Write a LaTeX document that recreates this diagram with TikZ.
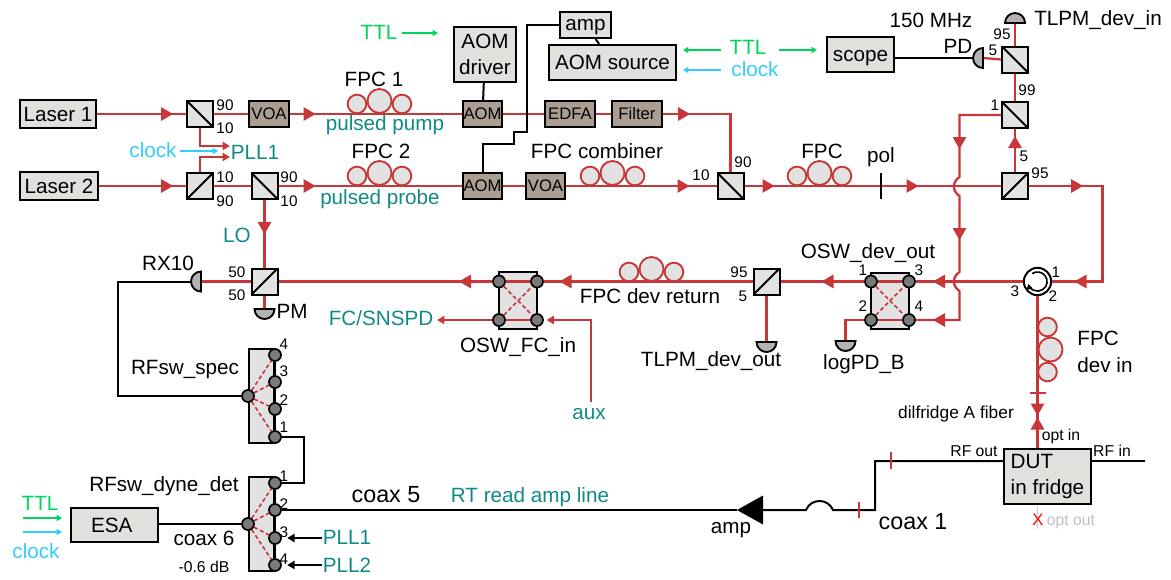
\documentclass[tikz,border=0pt]{standalone}
\usepackage{fontspec}
\setmainfont{Liberation Sans}
\usepackage{xcolor}
\usetikzlibrary{arrows.meta,calc}
\definecolor{fibred}{RGB}{200,55,55}
\definecolor{boxgray}{RGB}{224,224,221}
\definecolor{partgray}{RGB}{226,226,226}
\definecolor{aombrown}{RGB}{172,157,147}
\definecolor{labelteal}{RGB}{15,138,132}
\definecolor{ttlgreen}{RGB}{0,212,90}
\definecolor{clockblue}{RGB}{51,204,255}
\definecolor{portgray}{RGB}{122,122,122}
\definecolor{pdgray}{RGB}{179,179,179}
\newcommand{\fibtip}[2]{\fill[fibred,shift={(#1)},rotate=#2] (4.5pt,0) -- (-4.5pt,5.2pt) -- (-4.5pt,-5.2pt) -- cycle;}
\newcommand{\pdhead}[2]{\draw[line width=1.4pt,fill=pdgray,shift={(#1)},rotate=#2] (-7.5pt,0) arc (180:0:7.5pt) -- cycle;}

\begin{document}
\begin{tikzpicture}[x=0.75pt,y=-0.75pt,
  every node/.style={font=\fontsize{15.5}{20}\selectfont,inner sep=0pt},
  num/.style={font=\fontsize{11.5}{14}\selectfont},
  small/.style={font=\fontsize{11.8}{14}\selectfont},
  coaxlbl/.style={font=\fontsize{17.5}{20}\selectfont},
  teal/.style={text=labelteal},
  greybox/.style={draw,line width=1.5pt,fill=boxgray,align=center},
  brownbox/.style={draw,line width=1.5pt,fill=aombrown,minimum height=19.5pt,font=\fontsize{12.5}{15}\selectfont},
  bsdown/.style={draw,line width=1.5pt,fill=partgray,minimum size=19.5pt,
    path picture={\draw[line width=1.5pt] (path picture bounding box.north west) -- (path picture bounding box.south east);}},
  bsup/.style={draw,line width=1.5pt,fill=partgray,minimum size=19.5pt,
    path picture={\draw[line width=1.5pt] (path picture bounding box.south west) -- (path picture bounding box.north east);}},
  swbox/.style={draw,line width=1.5pt,fill=partgray},
  port/.style={circle,draw,line width=1.3pt,fill=portgray,minimum size=9pt},
  coil/.style={circle,draw=fibred,line width=1.4pt,fill=partgray},
  fib/.style={draw=fibred,line width=1.7pt},
  wire/.style={draw=black,line width=1.5pt},
  swdash/.style={draw=fibred,line width=1.2pt,dash pattern=on 3pt off 2pt},
  smalltip/.style={-{Triangle[length=5.5pt,width=6pt]}},
  thintip/.style={line width=1pt,-{Triangle[length=4pt,width=4.5pt]}}]
  \useasboundingbox (0,0) rectangle (1171,579);

  % sources and boxes
  \node[greybox,minimum width=57pt,minimum height=21.5pt] (laserA) at (58,114) {Laser 1};
  \node[greybox,minimum width=58pt,minimum height=21.5pt] (laserB) at (59,186) {Laser 2};
  \node[brownbox,minimum width=30pt] (voaA) at (269,114) {VOA};
  \node[brownbox,minimum width=29.5pt] (aomA) at (482.5,114) {AOM};
  \node[brownbox,minimum width=38pt] (edfa) at (570,114) {EDFA};
  \node[brownbox,minimum width=38pt] (filter) at (637,114) {Filter};
  \node[brownbox,minimum width=29.5pt] (aomB) at (482.5,186) {AOM};
  \node[brownbox,minimum width=29.5pt] (voaB) at (545.5,186) {VOA};
  \node[greybox,minimum width=46.5pt,minimum height=41.5pt] (driver) at (485,54.5) {AOM\\driver};
  \node[greybox,minimum width=38.5pt,minimum height=19.5pt,text depth=0pt] (amp) at (585.5,25) {amp};
  \node[greybox,minimum width=95.5pt,minimum height=26.5pt] (source) at (612.5,62.5) {AOM source};
  \node[greybox,minimum width=50.5pt,minimum height=26.5pt,text height=11pt,text depth=0pt] (scope) at (860.5,54.5) {scope};
  \node[greybox,minimum width=65.5pt,minimum height=26pt] (esa) at (114.5,525) {ESA\hspace{4pt}};
  \node[greybox,minimum width=65.5pt,minimum height=41.5pt,align=left] (dut) at (1047.5,476.5) {DUT\\in fridge};

  % splitters
  \node[bsdown] (bsA) at (200,114) {};
  \node[bsup] (bsB) at (200,186) {};
  \node[bsdown] (bsC) at (264.5,186) {};
  \node[bsup] (bsF) at (264.5,281.5) {};
  \node[bsdown] (bsD) at (730.5,186) {};
  \node[bsup] (bsE) at (1015,186) {};
  \node[bsdown] (bsH) at (1015,115) {};
  \node[bsdown] (bsJ) at (1015,59.5) {};
  \node[bsup] (bsG) at (766.5,281.5) {};

  % polarization controllers
  \foreach \name/\cx/\cy in {fpcA/0/0,fpcB/0/72,fpcC/233/72,fpcD/440/72,fpcE/272/168}{
    \node[coil,minimum size=14pt] (\name a) at (357+\cx,104+\cy) {};
    \node[coil,minimum size=18pt] (\name b) at (379.5+\cx,101+\cy) {};
    \node[coil,minimum size=14pt] (\name c) at (402+\cx,104+\cy) {};
  }
  \node[coil,minimum size=14pt] (fpcFa) at (1047.5,327) {};
  \node[coil,minimum size=18pt] (fpcFb) at (1050.5,349.5) {};
  \node[coil,minimum size=14pt] (fpcFc) at (1047.5,372) {};

  % optical switches
  \node[swbox,minimum width=28.5pt,minimum height=42.5pt] (oswFc) at (518,300.5) {};
  \foreach \n/\px/\py in {1/499/281.5,2/537/281.5,3/499/320,4/537/320}
    \node[port] (fc\n) at (\px,\py) {};
  \node[swbox,minimum width=28.5pt,minimum height=42.5pt] (oswDev) at (890,301) {};
  \foreach \n/\px/\py in {1/871/281.5,3/909/281.5,2/871/320,4/909/320}
    \node[port] (dev\n) at (\px,\py) {};
  \draw[fib] (fc1) -- (fc2); \draw[fib] (fc3) -- (fc4);
  \draw[swdash] (fc1) -- (fc4); \draw[swdash] (fc3) -- (fc2);
  \draw[fib] (dev1) -- (dev3); \draw[fib] (dev2) -- (dev4);
  \draw[swdash] (dev1) -- (dev4); \draw[swdash] (dev2) -- (dev3);

  % rf switches
  \node[swbox,minimum width=19pt,minimum height=71pt] (rfSpec) at (261.5,396) {};
  \node[swbox,minimum width=19pt,minimum height=71pt] (rfDyne) at (261.5,524) {};
  \foreach \n/\py in {4/355,3/382,2/409,1/437}
    \node[port] (spec\n) at (275,\py) {};
  \foreach \n/\py in {1/483,2/510,3/538,4/565}
    \node[port] (dyne\n) at (275,\py) {};
  \node[port] (specIn) at (248,396) {};
  \node[port] (dyneIn) at (248,524) {};
  \foreach \n in {1,2,3,4}{
    \draw[swdash] (specIn) -- (spec\n);
    \draw[swdash] (dyneIn) -- (dyne\n);
  }

  % circulator
  \node[circle,draw,line width=1.5pt,fill=white,minimum size=20.5pt] (circ) at (1037.5,281.5) {};
  \draw[line width=1.2pt,-{Triangle[length=4pt,width=4.5pt]},shift={(circ.center)}] (125:7.2pt) arc (125:-165:7.2pt);

  % detectors
  \coordinate (pdRx) at (201,281.5);
  \coordinate (pdRxBack) at (191,281.5);
  \coordinate (pdPm) at (264.5,309);
  \coordinate (pdOut) at (766.5,342);
  \coordinate (pdLog) at (845.5,341);
  \coordinate (pdIn) at (1015,23);
  \coordinate (pdFast) at (983,58);
  \coordinate (pdFastBack) at (972.5,58);

  % fibers
  \draw[fib] (laserA) -- (bsA);
  \draw[fib] (bsA) -- (voaA);
  \draw[fib] (voaA) -- (aomA);
  \draw[fib] (aomA) -- (edfa);
  \draw[fib] (edfa) -- (filter);
  \draw[fib] (filter.east) -| (bsD.north);
  \draw[fib] (laserB) -- (bsB);
  \draw[fib] (bsB) -- (bsC);
  \draw[fib] (bsC) -- (aomB);
  \draw[fib] (aomB) -- (voaB);
  \draw[fib] (voaB) -- (bsD);
  \draw[fib] (bsD) -- (bsE);
  \draw[fib] (bsE.east) -- (1102.5,186) -- (1102.5,281.5) -- (circ.east);
  \draw[fib] (circ.west) -- (dev3.east);
  \draw[fib] (dev1.west) -- (bsG.east);
  \draw[fib] (bsG.west) -- (fc2.east);
  \draw[fib] (fc1.west) -- (bsF.east);
  \draw[fib] (bsF.west) -- (pdRx);
  \draw[fib] (bsC.south) -- (bsF.north);
  \draw[fib] (bsF.south) -- (pdPm);
  \draw[fib] (bsG.south) -- (pdOut);
  \draw[fib] (dev2.west) -| (pdLog);
  \draw[fib] (bsE.north) -- (bsH.south);
  \draw[fib] (bsH.north) -- (bsJ.south);
  \draw[fib] (bsJ.north) -- (pdIn);
  \draw[fib] (bsJ.west) -- (pdFast);
  \draw[fib] (bsH.west) -- (959.5,115) -- (959.5,177) .. controls (952,182) and (952,191) .. (959.5,196) -- (959.5,272) .. controls (952,277) and (952,286) .. (959.5,291) -- (959.5,320) -- (dev4.east);
  \draw[fib] (circ.south) -- (circ.south |- dut.north);
  \draw[fibred!30,line width=1.4pt] (circ.south |- dut.south) -- ++(0,24);
  % pll taps
  \coordinate (pllTop) at (230,146);
  \coordinate (pllBot) at (230,157);
  \draw[fib,smalltip] (bsA.south) |- (pllTop);
  \draw[fib,smalltip] (bsB.north) |- (pllBot);
  % osw_fc side ports
  \coordinate (fcOut) at (437,320);
  \coordinate (auxEnd) at (591,402);
  \draw[fib,smalltip] (fc3.west) -- (fcOut);
  \draw[fib,smalltip,shorten >=2pt] (auxEnd) |- (fc4.east);

  % direction marks
  \fibtip{167,114}{0}
  \fibtip{309.5,114}{0}
  \fibtip{684,114}{0}
  \fibtip{167,186}{0}
  \fibtip{309.5,186}{0}
  \fibtip{683.5,186}{0}
  \fibtip{768.5,186}{0}
  \fibtip{912.5,186}{0}
  \fibtip{1077,186}{0}
  \fibtip{1080.5,281.5}{180}
  \fibtip{939,281.5}{180}
  \fibtip{939,320}{180}
  \fibtip{827.5,281.5}{180}
  \fibtip{565.5,281.5}{180}
  \fibtip{465,281.5}{180}
  \fibtip{264.5,228}{-90}
  \fibtip{959.5,143}{-90}
  \fibtip{959.5,234}{-90}
  \fibtip{1015,142}{90}
  \fibtip{1037.5,409.5}{-90}
  \fibtip{1037.5,423.5}{90}

  % photodiodes
  \pdhead{pdRx}{90}
  \pdhead{pdPm}{180}
  \pdhead{pdOut}{180}
  \pdhead{pdLog}{180}
  \pdhead{pdIn}{0}
  \pdhead{pdFast}{90}

  % electrical
  \draw[wire] (driver) -- (aomA);
  \draw[wire] (amp) -- (source);
  \draw[wire] (amp.west) -- (527,25) -- (527,132) -- (514,132) -- (514,144) -- (482.5,144) -- (aomB.north);
  \draw[wire] (scope.east |- pdFast) -- (pdFastBack);
  \draw[wire] (pdRxBack) -- (118,281.5) |- (specIn.west);
  \draw[wire] (spec1.east) -- (304,437) |- (dyne1.east);
  \draw[wire] (spec1) -- (spec2); \draw[wire] (spec2) -- (spec3); \draw[wire] (spec3) -- (spec4);
  \draw[wire] (dyne1) -- (dyne2); \draw[wire] (dyne2) -- (dyne3); \draw[wire] (dyne3) -- (dyne4);
  \draw[wire] (esa.east |- dyneIn) -- (dyneIn.west);
  \coordinate (ampBase) at (763,510);
  \coordinate (ampTip) at (737,510);
  \fill (ampBase) ++(0,-14.5) -- (ampTip) -- ++(26,14.5) -- cycle;
  \draw[wire] (dyne2.east) -- (ampTip);
  \draw[wire] (ampBase) -- (806,510) .. controls (811,498) and (828,498) .. (833,510) -- (875,510) -- (875,461) -- (dut.west |- 0,461);
  \coordinate (rfEnd) at (1145,461);
  \draw[wire] (dut.east |- rfEnd) -- (rfEnd);
  % cable ticks
  \draw[fibred,line width=1.2pt] (859,502) -- (859,518);
  \draw[fibred,line width=1.2pt] (891,452) -- (891,469);
  \draw[fibred,line width=1.2pt] (1030,393) -- (1046,393);
  \draw[line width=1.5pt] (881,173) -- (881,199);

  % labels
  \node (lblFpcA) at (374,79) {FPC 1};
  \node (lblFpcB) at (381,151) {FPC 2};
  \node (lblFpcCmb) at (597,151) {FPC combiner};
  \node (lblFpc) at (822,151) {FPC};
  \node (lblPol) at (881,157) {pol};
  \node (lblFpcRet) at (650,296) {FPC dev return};
  \node[align=left] (lblFpcIn) at (1105,352) {FPC\\dev in};
  \node (lblMhz) at (931,20) {150 MHz};
  \node (lblPd) at (958,46) {PD};
  \node[anchor=west] (lblTlIn) at (1034,20) {TLPM\_dev\_in};
  \node (lblTlOut) at (711,361) {TLPM\_dev\_out};
  \node (lblLog) at (864,364) {logPD\_B};
  \node (lblOswDev) at (868,253) {OSW\_dev\_out};
  \node (lblOswFc) at (518,347) {OSW\_FC\_in};
  \node (lblRx) at (168,263) {RX10};
  \node (lblPm) at (292,311) {PM};
  \node (lblSpec) at (185,370) {RFsw\_spec};
  \node (lblDyne) at (164,486) {RFsw\_dyne\_det};
  \node (lblCoaxS) at (204,538) {coax 6};
  \node[small] (lblLoss) at (204,567) {-0.6 dB};
  \node[coaxlbl] (lblCoaxF) at (386,495) {coax 5};
  \node[coaxlbl] (lblCoaxA) at (913,522) {coax 1};
  \node (lblAmp) at (731,530) {amp};
  \node[font=\fontsize{13}{15}\selectfont] (lblDil) at (956,414) {dilfridge A fiber};
  \node[small] (lblOptIn) at (1061,436) {opt in};
  \node[small] (lblRfOut) at (974,451) {RF out};
  \node[small] (lblRfIn) at (1112,451) {RF in};
  \node[small,text=black!25] (lblOptOut) at (1071,522) {opt out};
  \node[text=red,font=\fontsize{12.5}{15}\selectfont] (lblX) at (1038,520) {X};

  \node[teal] (lblPump) at (385,125) {pulsed pump};
  \node[teal] (lblProbe) at (380,199) {pulsed probe};
  \node[teal] (lblPllA) at (255,152) {PLL1};
  \node[teal] (lblLo) at (237,235) {LO};
  \node[teal] (lblSnspd) at (381,318) {FC/SNSPD};
  \node[teal] (lblAux) at (589,414) {aux};
  \node[teal] (lblRead) at (530,497) {RT read amp line};
  \node[teal] (lblPllB) at (347,537) {PLL1};
  \node[teal] (lblPllC) at (347,565) {PLL2};

  \node[text=ttlgreen] (ttlTop) at (379,32) {TTL};
  \node[text=ttlgreen] (ttlMid) at (748,47) {TTL};
  \node[text=ttlgreen] (ttlLeft) at (40,503) {TTL};
  \node[text=clockblue] (clkLeft) at (153,150) {clock};
  \node[text=clockblue] (clkMid) at (755,69) {clock};
  \node[text=clockblue] (clkBot) at (36,551) {clock};

  % splitter ratios
  \node[num] (rA) at (225,105) {90};
  \node[num] (rB) at (225,128) {10};
  \node[num] (rC) at (225,177) {10};
  \node[num] (rD) at (225,201) {90};
  \node[num] (rE) at (289,177) {90};
  \node[num] (rF) at (289,201) {10};
  \node[num] (rG) at (237,272) {50};
  \node[num] (rH) at (237,295) {50};
  \node[num] (rI) at (743,162) {90};
  \node[num] (rJ) at (701,175) {10};
  \node[num] (rK) at (739,272) {95};
  \node[num] (rL) at (743,296) {5};
  \node[num] (rM) at (1024,156) {5};
  \node[num] (rN) at (1040,173) {95};
  \node[num] (rO) at (1027,90) {99};
  \node[num] (rP) at (995,105) {1};
  \node[num] (rQ) at (1002,34) {95};
  \node[num] (rR) at (993,50) {5};
  \node[num] (cA) at (1056,272) {1};
  \node[num] (cB) at (1053,296) {2};
  \node[num] (cC) at (1015,291) {3};
  \foreach \n/\px/\py in {1/863/270,3/919/270,2/863/306,4/919/306}
    \node[num] (devNum\n) at (\px,\py) {\n};
  \foreach \n/\py in {4/344,3/371,2/400,1/427}
    \node[num] (specNum\n) at (284,\py) {\n};
  \foreach \n/\py in {1/476,2/504,3/532,4/559}
    \node[num] (dyneNum\n) at (284,\py) {\n};

  % control signals
  \coordinate (pllClk) at (218,151);
  \coordinate (clkStart) at (180,151);
  \coordinate (ttlTopStart) at (402,33);
  \coordinate (ttlTopEnd) at (438,33);
  \coordinate (ttlMidStart) at (721,50);
  \coordinate (ttlMidEnd) at (683,50);
  \coordinate (clkMidStart) at (721,70);
  \coordinate (clkMidEnd) at (683,70);
  \coordinate (ttlScopeStart) at (779,50);
  \coordinate (ttlScopeEnd) at (817,50);
  \coordinate (ttlLeftStart) at (23,518);
  \coordinate (ttlLeftEnd) at (62,518);
  \coordinate (clkLeftStart) at (23,532);
  \coordinate (clkLeftEnd) at (62,532);
  \coordinate (pllInA) at (322,538);
  \coordinate (pllInB) at (322,565);
  \draw[thintip,draw=clockblue,clockblue] (clkStart) -- (pllClk);
  \draw[thintip,draw=ttlgreen,ttlgreen] (ttlTopStart) -- (ttlTopEnd);
  \draw[thintip,draw=ttlgreen,ttlgreen] (ttlMidStart) -- (ttlMidEnd);
  \draw[thintip,draw=clockblue,clockblue] (clkMidStart) -- (clkMidEnd);
  \draw[thintip,draw=ttlgreen,ttlgreen] (ttlScopeStart) -- (ttlScopeEnd);
  \draw[thintip,draw=ttlgreen,ttlgreen] (ttlLeftStart) -- (ttlLeftEnd);
  \draw[thintip,draw=clockblue,clockblue] (clkLeftStart) -- (clkLeftEnd);
  \draw[wire,smalltip,shorten >=4pt] (pllInA) -- (dyne3.east);
  \draw[wire,smalltip,shorten >=4pt] (pllInB) -- (dyne4.east);
\end{tikzpicture}
\end{document}
